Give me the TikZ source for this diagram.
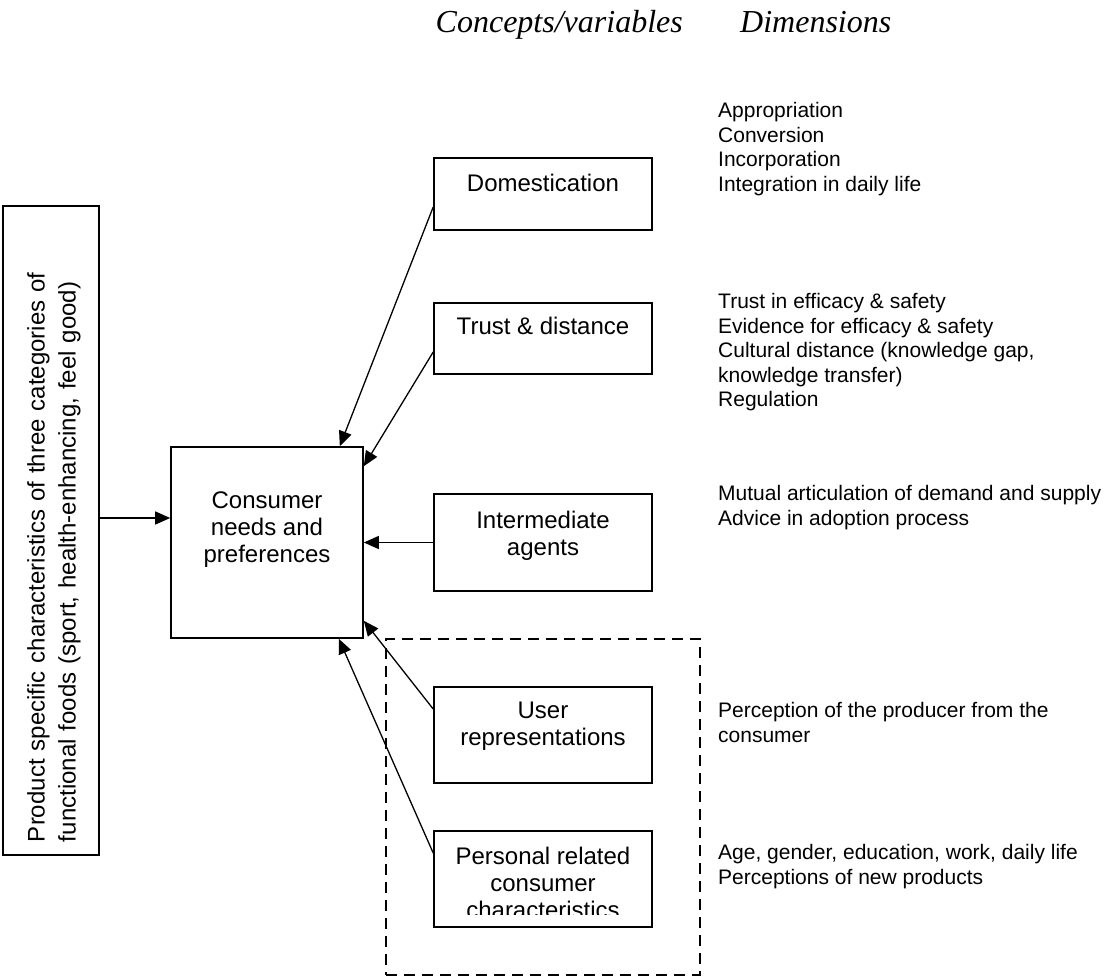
\documentclass[tikz,border=0pt]{standalone}
\usepackage{fontspec}
\setmainfont{Liberation Sans}
\newfontfamily\serifhead{Liberation Serif}
\usepackage{tikz}
\usetikzlibrary{arrows.meta}
\usetikzlibrary{positioning}
\usetikzlibrary{fit}

\tikzset{
  concept/.style={draw,line width=1.6pt,minimum width=218pt,inner sep=0pt},
  boxtext/.style={inner sep=0pt,align=center,font=\fontsize{24pt}{27pt}\selectfont},
  dimtext/.style={anchor=north west,inner sep=0pt,align=left,font=\fontsize{21pt}{24.6pt}\selectfont},
  headtext/.style={inner sep=0pt,font=\serifhead\itshape\fontsize{32pt}{36pt}\selectfont},
  group/.style={draw,dash pattern=on 11pt off 7pt,line width=1.6pt,inner sep=47pt},
  link/.style={->,line width=1.3pt}
}

\begin{document}
\begin{tikzpicture}[line join=miter,>={Triangle[length=15pt,width=13pt]},x=1pt,y=-1pt]
\useasboundingbox (0,0) rectangle (1109,979);

\node[headtext,anchor=base east] (hconc) at (683,33) {Concepts/variables};
\node[headtext,anchor=base west] (hdim) at (740,33) {Dimensions};

\node[draw,line width=1.6pt,minimum width=96pt,minimum height=649pt,inner sep=0pt] (prod) at (51,530.5) {};
\node[boxtext,rotate=90,text width=623pt,align=left,font=\fontsize{24pt}{31pt}\selectfont] (prodtext) at ([xshift=3pt]prod.center) {Product specific characteristics of three categories of\\functional foods (sport, health-enhancing, feel good)};

\node[concept,minimum width=192pt,minimum height=191pt] (cons) at (267,542.5) {};
\node[boxtext,below=45pt of cons.north] (constext) {Consumer\\needs and\\preferences};

\node[concept,minimum height=72pt] (dom) at (543,194) {};
\node[boxtext,below=17pt of dom.north] (domtext) {Domestication};
\node[concept,minimum height=71pt] (trust) at (543,338.5) {};
\node[boxtext,below=15pt of trust.north] (trusttext) {Trust \& distance};
\node[concept,minimum height=97pt] (inter) at (543,542.5) {};
\node[boxtext,below=18pt of inter.north] (intertext) {Intermediate\\agents};
\node[concept,minimum height=96pt] (user) at (543,735) {};
\node[boxtext,below=16pt of user.north] (usertext) {User\\representations};
\node[concept,minimum height=96pt] (pers) at (543,879) {};
\begin{scope}
\clip (pers.north west) rectangle ([yshift=13pt]pers.south east);
\node[boxtext,below=17pt of pers.north] (perstext) {Personal related\\consumer\\characteristics};
\end{scope}

\node[group,fit=(user)(pers)] (grp) {};

\node[dimtext] (dimdom) at (718,102) {Appropriation\\Conversion\\Incorporation\\Integration in daily life};
\node[dimtext] (dimtrust) at (718,293) {Trust in efficacy \& safety\\Evidence for efficacy \& safety\\Cultural distance (knowledge gap,\\knowledge transfer)\\Regulation};
\node[dimtext] (diminter) at (718,485) {Mutual articulation of demand and supply\\Advice in adoption process};
\node[dimtext] (dimuser) at (718,702) {Perception of the producer from the\\consumer};
\node[dimtext] (dimpers) at (718,844) {Age, gender, education, work, daily life\\Perceptions of new products};

\coordinate (cin) at ([yshift=24.5pt]cons.west);
\draw[link] (prod.east |- cin) -- (cin);
\draw[link] ([yshift=-13pt]dom.west) -- ([xshift=-24pt]cons.north east);
\draw[link] ([yshift=-13.5pt]trust.west) -- ([yshift=-20pt]cons.north east);
\draw[link] (inter.west) -- (cons.east);
\draw[link] ([yshift=26pt]user.west) -- ([yshift=18pt]cons.south east);
\draw[link] ([yshift=26pt]pers.west) -- ([xshift=-25pt]cons.south east);
\end{tikzpicture}
\end{document}
